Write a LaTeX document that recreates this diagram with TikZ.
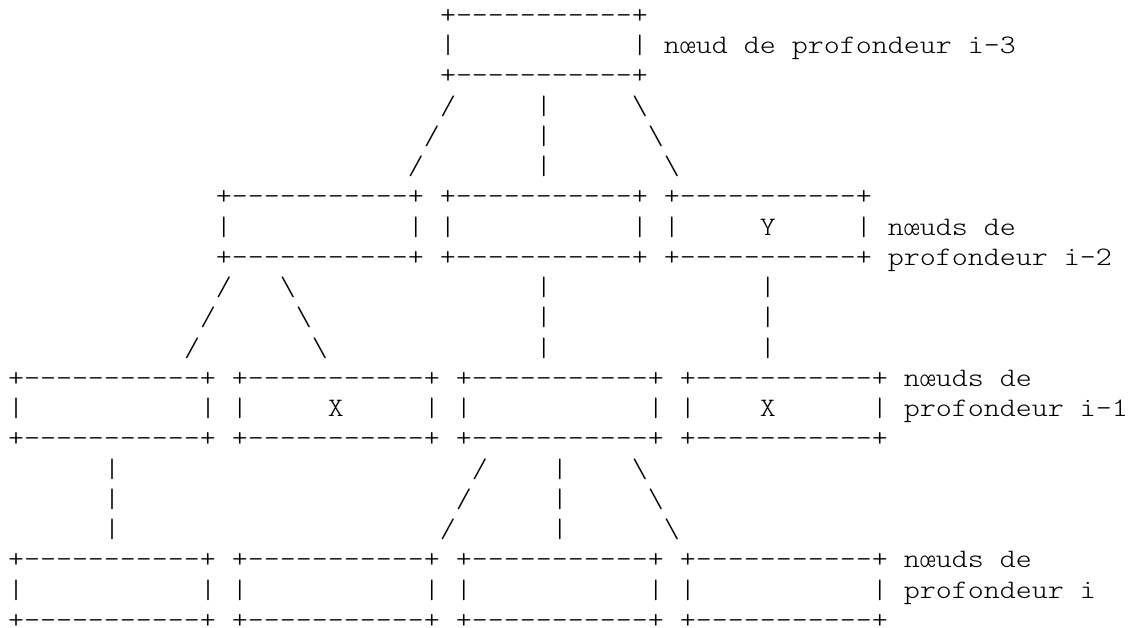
\documentclass[tikz,border=0pt]{standalone}
\usepackage{fontspec}
\setmonofont[FakeStretch=1.142857]{Latin Modern Mono Light}

% one character cell of the monospaced grid
\newlength\artcw
\setlength\artcw{12pt}
\newcommand\artgap[1]{\hspace*{#1\artcw}}
\newcommand\artedge{+-----------+}
\newcommand\artside{|\artgap{11}|}
\newcommand\artlabel[2]{|\artgap{#1}#2\artgap{\numexpr10-#1\relax}|}
\newcommand\artbs{\textbackslash}

\tikzset{
  artline/.style={inner sep=0pt, outer sep=0pt, anchor=base west,
    font=\ttfamily\fontsize{20pt}{22.69pt}\selectfont}
}

\begin{document}
\begin{tikzpicture}
\useasboundingbox (0,0) rectangle (849pt,-471pt);
\foreach \r/\txt in {
  0/{\artgap{27}\artedge},
  1/{\artgap{27}\artside\artgap{1}nœud de profondeur i-3},
  2/{\artgap{27}\artedge},
  3/{\artgap{27}/\artgap{5}|\artgap{5}\artbs},
  4/{\artgap{26}/\artgap{6}|\artgap{6}\artbs},
  5/{\artgap{25}/\artgap{7}|\artgap{7}\artbs},
  6/{\artgap{13}\artedge\artgap{1}\artedge\artgap{1}\artedge},
  7/{\artgap{13}\artside\artgap{1}\artside\artgap{1}\artlabel{5}{Y}\artgap{1}nœuds de},
  8/{\artgap{13}\artedge\artgap{1}\artedge\artgap{1}\artedge\artgap{1}profondeur i-2},
  9/{\artgap{13}/\artgap{3}\artbs\artgap{15}|\artgap{13}|},
  10/{\artgap{12}/\artgap{5}\artbs\artgap{14}|\artgap{13}|},
  11/{\artgap{11}/\artgap{7}\artbs\artgap{13}|\artgap{13}|},
  12/{\artedge\artgap{1}\artedge\artgap{1}\artedge\artgap{1}\artedge\artgap{1}nœuds de},
  13/{\artside\artgap{1}\artlabel{5}{X}\artgap{1}\artside\artgap{1}\artlabel{4}{X}\artgap{1}profondeur i-1},
  14/{\artedge\artgap{1}\artedge\artgap{1}\artedge\artgap{1}\artedge},
  15/{\artgap{6}|\artgap{22}/\artgap{4}|\artgap{4}\artbs},
  16/{\artgap{6}|\artgap{21}/\artgap{5}|\artgap{5}\artbs},
  17/{\artgap{6}|\artgap{20}/\artgap{6}|\artgap{6}\artbs},
  18/{\artedge\artgap{1}\artedge\artgap{1}\artedge\artgap{1}\artedge\artgap{1}nœuds de},
  19/{\artside\artgap{1}\artside\artgap{1}\artside\artgap{1}\artside\artgap{1}profondeur i},
  20/{\artedge\artgap{1}\artedge\artgap{1}\artedge\artgap{1}\artedge}
}{
  \node[artline] (line\r) at (6pt, {-17.5pt-\r*22.6875pt}) {\txt};
}
\end{tikzpicture}
\end{document}
